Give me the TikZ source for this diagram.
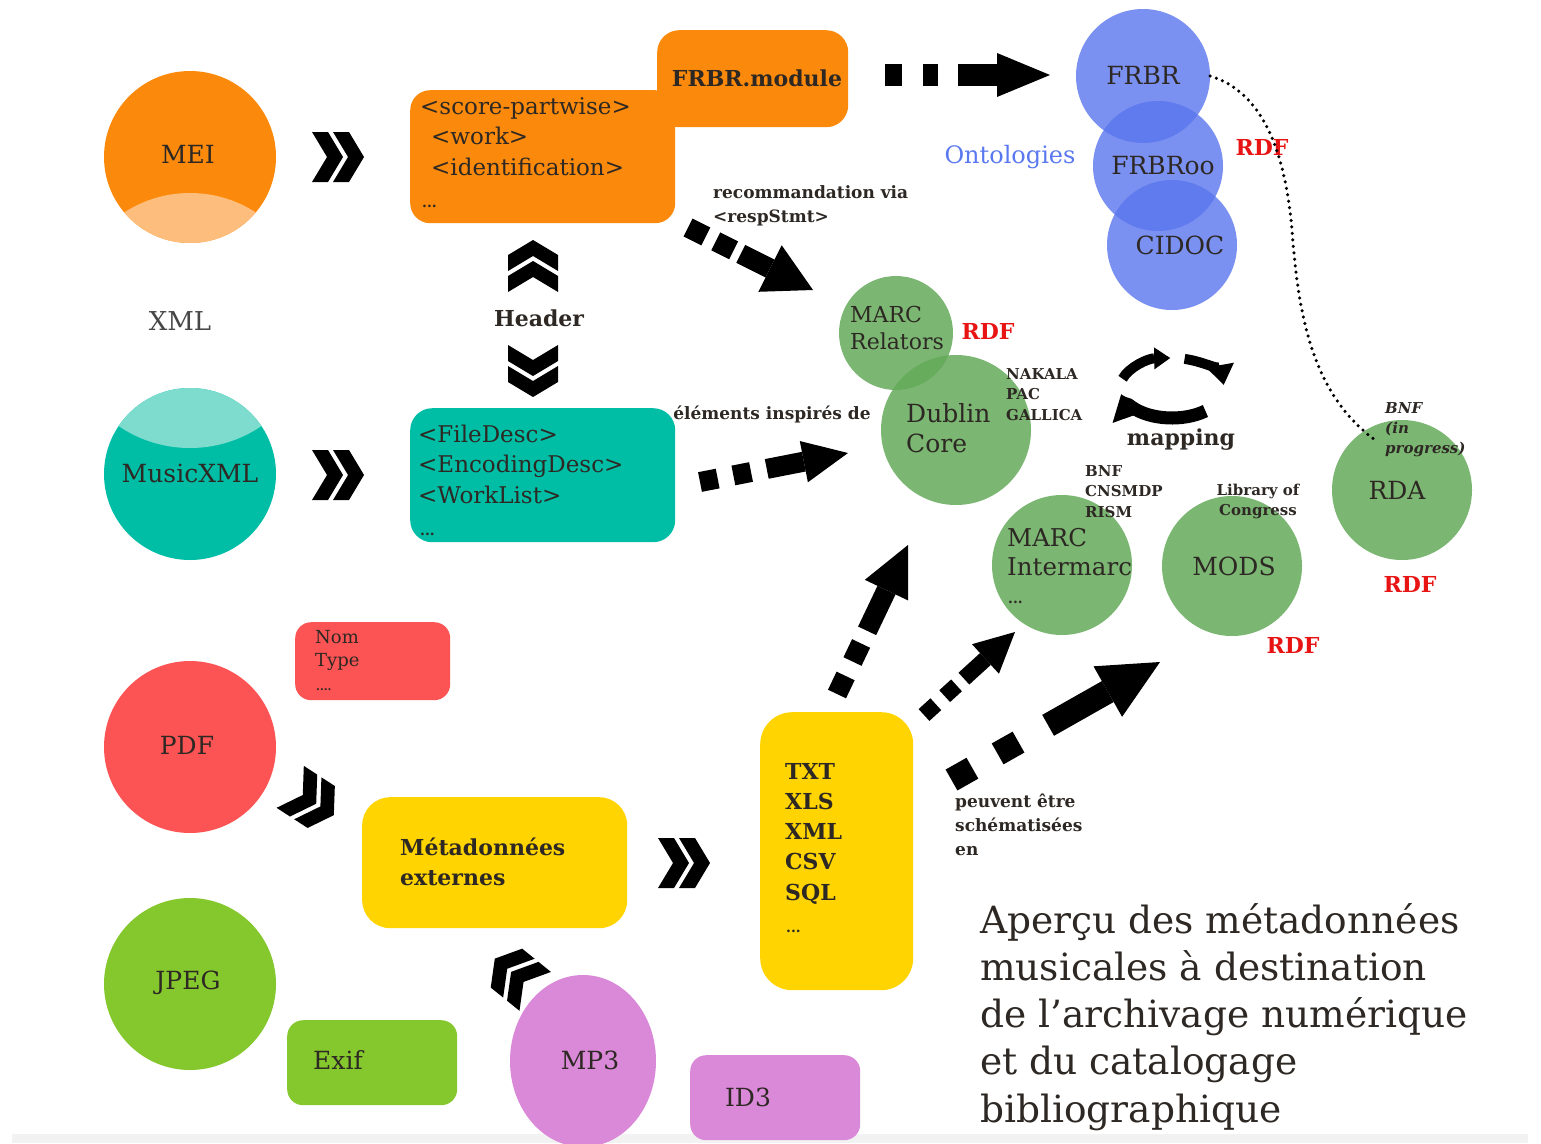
\documentclass[tikz,border=0pt]{standalone}
\usepackage{fontspec}
\setmainfont{DejaVu Serif}
\usetikzlibrary{arrows.meta,shapes.geometric}
\newcommand\fsz[2]{\fontsize{#1}{#2}\selectfont}
\definecolor{meiC}{RGB}{251,138,12}
\definecolor{meiL}{RGB}{253,190,125}
\definecolor{tealC}{RGB}{0,190,165}
\definecolor{tealL}{RGB}{125,220,205}
\definecolor{blueC}{RGB}{90,118,238}
\definecolor{greenC}{RGB}{100,170,90}
\definecolor{redC}{RGB}{252,84,84}
\definecolor{yelC}{RGB}{255,212,0}
\definecolor{limeC}{RGB}{133,200,45}
\definecolor{pinkC}{RGB}{218,136,216}
\definecolor{txtC}{RGB}{45,40,35}
\definecolor{rdfC}{RGB}{232,20,20}
\definecolor{ontoC}{RGB}{90,120,240}
\tikzset{
  dchev/.pic={
    \fill[black] (-26,-25) -- (-10,-25) -- (5,0) -- (-10,25) -- (-26,25) -- (-11,0) -- cycle;
    \fill[black] (-5,-25) -- (11,-25) -- (26,0) -- (11,25) -- (-5,25) -- (10,0) -- cycle;
  },
  fatarrow/.style n args={4}{draw=black, line width=#1, dash pattern=#2,
     -{Triangle[length=#3, width=#4, line width=0pt]}},
}
\begin{document}
\begin{tikzpicture}[x=1pt,y=-1pt,
  every node/.style={inner sep=0pt, text=txtC},
  disc/.style={circle, minimum size=#1, draw=none},
  lbl/.style={font=\fsz{25}{30}},
  boxtext/.style={font=\fsz{23}{30.5}, align=left, anchor=base west},
  note/.style={font=\bfseries\fsz{17}{24}, align=left, anchor=base west},
  tiny/.style={font=\bfseries\fsz{15}{20.5}, align=left, anchor=base west},
  dots/.style={font=\bfseries\fsz{14}{16}, anchor=base west},
  rdf/.style={font=\bfseries\fsz{22}{26}, text=rdfC},
  card/.style={rectangle, rounded corners=#1, anchor=north west, draw=none},
  maparc/.style={draw=black, line width=#1},
]
\useasboundingbox (0,0) rectangle (1541,1143);
\fill[white] (0,0) rectangle (1541,1143);
\fill[black!5] (12,1134) rectangle (1528,1143);

% ---------- MEI / XML ----------
\node[disc=172, fill=meiC, path picture={\fill[meiL] ([yshift=-157pt]path picture bounding box.center) circle[radius=121];}] (mei) at (190,157) {};
\node[lbl] (meit) at (188,154) {MEI};
\node[font=\fsz{26}{30}, text=black!72] (xml) at (180,321) {XML};
\node[disc=172, fill=tealC, path picture={\fill[tealL] ([yshift=153pt]path picture bounding box.center) circle[radius=127];}] (musicxml) at (190,474) {};
\node[lbl] (musicxmlt) at (190,473) {MusicXML};

\pic (chevA) at (338,157) {dchev};
\pic (chevB) at (338,475) {dchev};

% ---------- orange boxes ----------
\node[card=20, fill=meiC, minimum width=265, minimum height=133] (score) at (410,90) {};
\node[card=22, fill=meiC, minimum width=191, minimum height=97] (frbrmod) at (657,30) {};
\node[font=\bfseries\fsz{22}{26}] (frbrmodt) at (757,78) {FRBR.module};
\node[boxtext] (scoret) at (420,175) {<score-partwise>\\\hspace*{11pt}<work>\\\hspace*{11pt}<identification>};
\node[dots] (scoredots) at (422,207) {...};

% ---------- header ----------
\pic[rotate=90] (hup) at (533,266) {dchev};
\pic[rotate=-90] (hdown) at (533,371) {dchev};
\node[font=\bfseries\fsz{22}{26}] (header) at (539,318) {Header};

% ---------- teal box ----------
\node[card=22, fill=tealC, minimum width=265, minimum height=134] (filed) at (410,408) {};
\node[boxtext] (filedt) at (418,503) {<FileDesc>\\<EncodingDesc>\\<WorkList>};
\node[dots] (filedots) at (420,535) {...};

% ---------- ontologies ----------
\begin{scope}[fill opacity=0.8]
\node[disc=134, fill=blueC] (frbr) at (1143,76) {};
\node[disc=130, fill=blueC] (frbroo) at (1158,166) {};
\node[disc=130, fill=blueC] (cidoc) at (1172,245) {};
\end{scope}
\node[lbl] (frbrt) at (1143,75) {FRBR};
\node[lbl] (frbroot) at (1163,166) {FRBRoo};
\node[lbl] (cidoct) at (1180,245) {CIDOC};
\node[font=\fsz{24}{28}, text=ontoC] (onto) at (1010,157) {Ontologies};
\node[rdf] (rdf1) at (1262,147) {RDF};

% ---------- green circles ----------
\begin{scope}[fill opacity=0.85]
\node[disc=114, fill=greenC] (marcrel) at (896,333) {};
\node[disc=150, fill=greenC] (dublin) at (956,430) {};
\node[disc=140, fill=greenC] (intermarc) at (1062,565) {};
\node[disc=140, fill=greenC] (mods) at (1232,566) {};
\node[disc=140, fill=greenC] (rda) at (1402,490) {};
\end{scope}
\node[font=\fsz{22}{27}, align=left, anchor=base west] (marcrelt) at (850,349) {MARC\\Relators};
\node[font=\fsz{25}{30}, align=left, anchor=base west] (dublint) at (906,452) {Dublin\\Core};
\node[rdf] (rdf2) at (988,331) {RDF};
\node[tiny] (nakala) at (1006,420) {NAKALA\\PAC\\GALLICA};
\node[tiny] (bnfa) at (1085,517) {BNF\\CNSMDP\\RISM};
\node[font=\fsz{24.5}{29}, align=left, anchor=base west] (intermarct) at (1007,575) {MARC\\Intermarc};
\node[dots] (intermdots) at (1008,603) {...};
\node[tiny, align=center, anchor=base] (loc) at (1258,515.5) {Library of\\Congress};
\node[lbl] (modst) at (1234,566) {MODS};
\node[rdf] (rdf3) at (1293,645) {RDF};
\node[lbl] (rdat) at (1397,490) {RDA};
\node[rdf] (rdf4) at (1410,584) {RDF};
\node[font=\bfseries\itshape\fsz{15}{20}, align=left, anchor=base west] (bnfb) at (1385,453) {BNF\\(in\\progress)};

% dotted FRBR -> RDA
\coordinate (rdaend) at (1375,440);
\draw[line width=3.5pt, line cap=round, dash pattern=on 0pt off 6.5pt] (frbr.east) .. controls (1262,92) and (1285,150) .. (1292,230) .. controls (1298,310) and (1310,392) .. (rdaend);

% ---------- mapping ----------
\coordinate (mapc) at (1172,388);
\draw[maparc=10pt, -{Triangle[length=16pt,width=22pt,line width=0pt]}] (mapc) ++(198:52 and 30) arc[start angle=198,end angle=268,x radius=52,y radius=30];
\draw[maparc=10pt, -{Triangle[length=20pt,width=28pt,line width=0pt]}] (mapc) ++(284:52 and 30) arc[start angle=284,end angle=354,x radius=52,y radius=30];
\draw[maparc=13pt, -{Triangle[length=24pt,width=36pt,line width=0pt]}] (mapc) ++(50:52 and 30) arc[start angle=50,end angle=168,x radius=52,y radius=30];
\node[font=\bfseries\fsz{22}{26}] (mapping) at (1181,440) {mapping};

% ---------- fat dashed arrows ----------
\coordinate (a1s) at (885,75);   \coordinate (a1e) at (1050,75);
\draw[fatarrow={22pt}{on 17pt off 21pt on 15pt off 20pt on 600pt off 10pt}{53pt}{44pt}] (a1s) -- (a1e);
\coordinate (a2s) at (688,227.5); \coordinate (a2e) at (813,290);
\draw[fatarrow={20pt}{on 20pt off 11pt on 20pt off 8pt on 600pt off 10pt}{48pt}{52pt}] (a2s) -- (a2e);
\node[note] (recom) at (713,222) {recommandation via\\<respStmt>};
\coordinate (a3s) at (700,482); \coordinate (a3e) at (848,453);
\draw[fatarrow={20pt}{on 18pt off 16pt on 18pt off 16pt on 600pt off 10pt}{45pt}{42pt}] (a3s) -- (a3e);
\node[note, anchor=center] (elem) at (772,414) {éléments inspirés de};

% ---------- PDF / JPEG / MP3 ----------
\node[disc=172, fill=redC] (pdf) at (190,747) {};
\node[lbl] (pdft) at (187,745) {PDF};
\node[card=16, fill=redC, minimum width=155, minimum height=78] (nom) at (295,622) {};
\node[font=\fsz{18}{23}, align=left, anchor=base west] (nomt) at (315,666) {Nom\\Type};
\node[font=\bfseries\fsz{11}{12}, anchor=base west] (nomdots) at (316,690) {....};
\pic[rotate=-33] (chevC) at (312,801) {dchev};

\node[card=28, fill=yelC, minimum width=265, minimum height=131] (meta) at (362,797) {};
\node[font=\bfseries\fsz{22}{30}, align=left, anchor=base west] (metat) at (400,885) {Métadonnées\\externes};
\pic (chevD) at (684,863) {dchev};

\node[card=32, fill=yelC, minimum width=153, minimum height=278] (txt) at (760,712) {};
\node[font=\bfseries\fsz{22}{30.2}, align=left, anchor=base west] (txtt) at (785,900) {TXT\\XLS\\XML\\CSV\\SQL};
\node[dots] (txtdots) at (786,932) {...};

\coordinate (a4s) at (837,694); \coordinate (a4e) at (908,545);
\draw[fatarrow={20pt}{on 20pt off 16pt on 20pt off 14pt on 600pt off 10pt}{50pt}{48pt}] (a4s) -- (a4e);
\coordinate (a5s) at (924,715); \coordinate (a5e) at (1015,632);
\draw[fatarrow={16pt}{on 16pt off 12pt on 16pt off 10pt on 600pt off 10pt}{40pt}{40pt}] (a5s) -- (a5e);
\coordinate (a6s) at (951.5,780); \coordinate (a6e) at (1160,662);
\draw[fatarrow={24pt}{on 24pt off 29pt on 24pt off 34pt on 600pt off 10pt}{60pt}{58pt}] (a6s) -- (a6e);
\node[note] (peuv) at (955,855) {peuvent être\\schématisées\\en};

\node[disc=172, fill=limeC] (jpeg) at (190,984) {};
\node[lbl] (jpegt) at (188,983) {JPEG};
\node[card=16, fill=limeC, minimum width=170, minimum height=85] (exif) at (287,1020) {};
\node[lbl] (exift) at (338,1060) {Exif};

\node[ellipse, minimum width=146, minimum height=172, fill=pinkC, draw=none] (mp3) at (583,1061) {};
\node[lbl] (mp3t) at (590,1060) {MP3};
\node[card=16, fill=pinkC, minimum width=170, minimum height=85] (id3) at (690,1055) {};
\node[lbl] (id3t) at (748,1097) {ID3};
\pic[rotate=141] (chevE) at (515,975) {dchev};

% ---------- title ----------
\node[font=\fsz{37.5}{47.2}, align=left, anchor=base west] (title) at (980,1122)
  {Aperçu des métadonnées\\musicales à destination\\de l'archivage numérique\\et du catalogage\\bibliographique};
\end{tikzpicture}
\end{document}
